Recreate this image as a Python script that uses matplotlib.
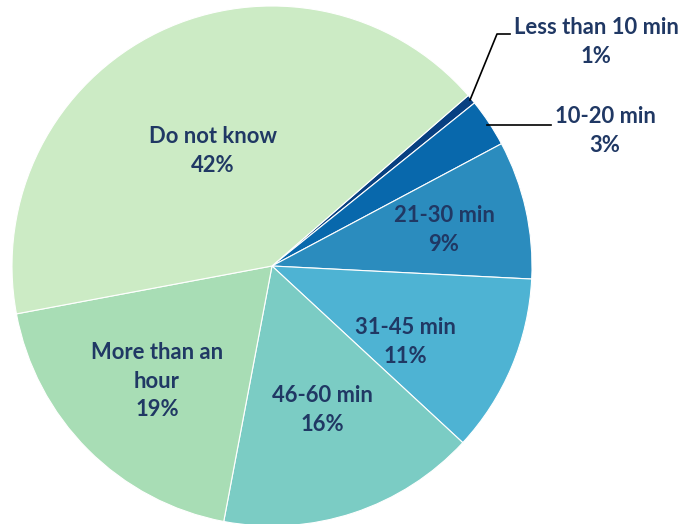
import matplotlib
matplotlib.use("Agg")
import matplotlib.pyplot as plt

categories = ["Less than 10 min", "10-20 min", "21-30 min", "31-45 min",
              "46-60 min", "More than an\nhour", "Do not know"]
values = [0.6, 3.0, 8.6, 11.1, 16.1, 19.1, 41.6]
pct_labels = ["1%", "3%", "9%", "11%", "16%", "19%", "42%"]
colors = ["#084081", "#0868ac", "#2b8cbe", "#4eb3d3", "#7bccc4", "#a8ddb5", "#ccebc5"]

W, H = 683, 524
fig = plt.figure(figsize=(W / 100, H / 100), dpi=100)
ax = fig.add_axes([0, 0, 1, 1])

cx, cy, R = 272, H - 266, 260
ax.pie(values, colors=colors, startangle=41, counterclock=False,
       center=(cx, cy), radius=R, frame=True,
       wedgeprops=dict(linewidth=0.8, edgecolor="white"))
ax.set_xlim(0, W)
ax.set_ylim(0, H)
ax.set_aspect("equal")
ax.axis("off")

txt = "#203864"
font = dict(family=["Lato", "DejaVu Sans"], fontweight="bold", fontsize=15.8, color=txt,
            ha="center", va="center", linespacing=1.45)

# label positions in pixel coords (x, y from top)
label_pos = [(596, 42), (605, 131), (444, 230), (405, 342), (322, 410), (157, 381), (213, 151)]
for name, pct, (x, y) in zip(categories, pct_labels, label_pos):
    ax.text(x, H - y, f"{name}\n{pct}", **font)

# leader lines
ax.plot([470, 497, 510], [H - 100, H - 34, H - 34], color="black", lw=1.2)
ax.plot([487, 551], [H - 125, H - 125], color="black", lw=1.2)

fig.savefig("out.png", dpi=100)
